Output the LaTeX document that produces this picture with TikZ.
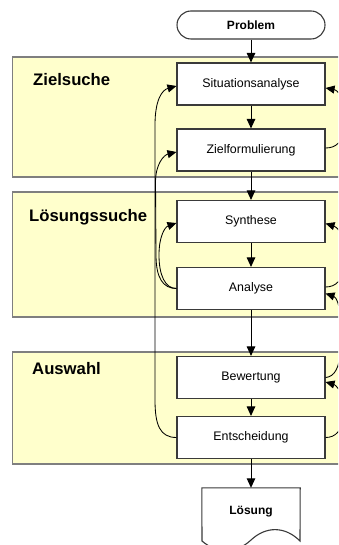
\documentclass[tikz,border=0pt]{standalone}
\usepackage{fontspec}
\setmainfont{Liberation Sans}
\usetikzlibrary{arrows.meta,calc}
\definecolor{panelfill}{HTML}{FFFFCC}
\definecolor{panelline}{HTML}{7F7F7F}
\definecolor{boxline}{HTML}{3A3A3A}
\begin{document}
\begin{tikzpicture}[x=1pt,y=-1pt,
  panel/.style={fill=panelfill,draw=panelline,line width=1.6pt},
  stepbox/.style={draw=boxline,fill=white,line width=1.1pt,minimum width=148pt,minimum height=42pt,inner sep=0pt,font=\fontsize{12.4}{14}\selectfont},
  title/.style={anchor=west,font=\bfseries\fontsize{16.7}{19}\selectfont,inner sep=0pt},
  arr/.style={-{Triangle[length=9.5pt,width=8.5pt]},line width=1pt},
  fb/.style={-{Triangle[length=9pt,width=8pt]},line width=0.85pt}]
\clip (0,0) rectangle (338,545);
\fill[white] (0,0) rectangle (338,545);
% panels
\draw[panel] (12.5,57) rectangle (360,177);
\draw[panel] (12.5,192) rectangle (360,317);
\draw[panel] (12.5,352) rectangle (360,464);
\node[title] (t1) at (33,80) {Zielsuche};
\node[title] (t2) at (29,217) {Lösungssuche};
\node[title] (t3) at (32,369) {Auswahl};
% start
\node[draw=boxline,fill=white,line width=1.1pt,rounded corners=14pt,minimum width=148pt,minimum height=28pt,inner sep=0pt,font=\bfseries\fontsize{12}{14}\selectfont] (prob) at (251,25) {Problem};
% steps
\node[stepbox] (sit) at (251,84) {Situationsanalyse};
\node[stepbox] (zf) at (251,150) {Zielformulierung};
\node[stepbox] (syn) at (251,221.5) {Synthese};
\node[stepbox] (ana) at (251,288.5) {Analyse};
\node[stepbox] (bew) at (251,377.5) {Bewertung};
\node[stepbox] (ent) at (251,437.5) {Entscheidung};
% result document
\node[minimum width=98pt,minimum height=48pt,inner sep=0pt] (loes) at (251,512) {};
\draw[draw=boxline,fill=white,line width=1.1pt] (loes.north west) -- (loes.north east) -- (300,541)
  .. controls (285,526) and (266,526) .. (251,540) .. controls (236,554) and (217,554) .. (202,541) -- cycle;
\node[font=\bfseries\fontsize{12}{14}\selectfont] (lt) at (loes.center) {Lösung};
% main flow
\draw[arr] (prob.south) -- (sit.north);
\draw[arr] (sit.south) -- (zf.north);
\draw[arr] (zf.south) -- (syn.north);
\draw[arr] (syn.south) -- (ana.north);
\draw[arr] (ana.south) -- (bew.north);
\draw[arr] (bew.south) -- (ent.north);
\draw[arr] (ent.south) -- (loes.north);
% left feedback
\draw[fb] (ent.west) .. controls (160,437.5) and (155,425) .. (155,400) -- (155,125)
  .. controls (155,100) and (162,90) .. ($(sit.west)+(0,2)$);
\draw[fb] (ana.west) .. controls (163,288.5) and (156,278) .. (156,255) -- (155.5,182)
  .. controls (155.5,164) and (164,155) .. ($(zf.west)+(0,2)$);
\draw[fb] (ana.west) .. controls (165,288.5) and (159,275) .. (159,255)
  .. controls (159,236) and (165,227) .. ($(syn.west)+(0,1.5)$);
% right feedback
\draw[fb] ($(zf.east)+(0,-2)$) .. controls (336,148) and (343,142) .. (343,128) -- (343,106)
  .. controls (343,96) and (337,90) .. ($(sit.east)+(0,4)$);
\draw[fb] ($(ana.east)+(0,-1.5)$) .. controls (336,287) and (343,280) .. (343,266) -- (343,244)
  .. controls (343,234) and (337,227) .. ($(syn.east)+(0,2)$);
\draw[fb] (bew.east) .. controls (334,377) and (340,368) .. (340,350) -- (340,318)
  .. controls (340,305) and (336,297) .. ($(ana.east)+(0,5)$);
\draw[fb] (ent.east) .. controls (336,437.5) and (342,430) .. (342,418) -- (342,400)
  .. controls (342,392) and (336,385) .. ($(bew.east)+(0,4.5)$);
\end{tikzpicture}
\end{document}
